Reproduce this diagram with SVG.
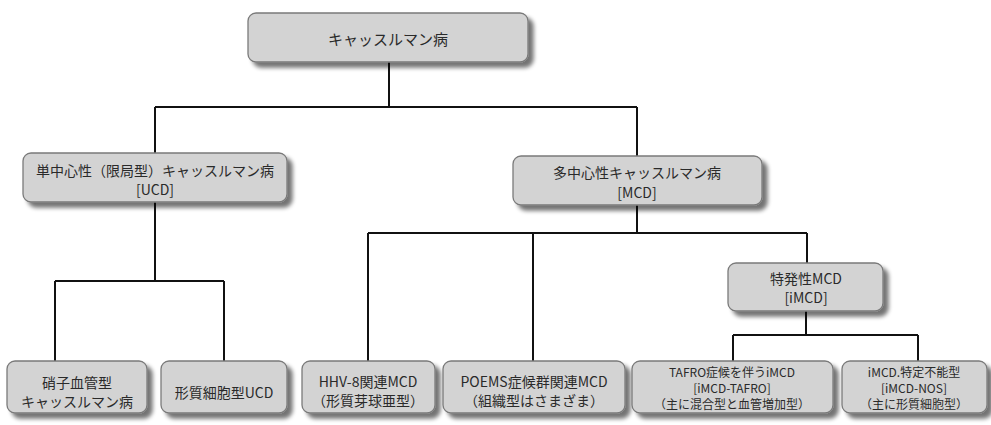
<svg xmlns="http://www.w3.org/2000/svg" width="991" height="425" viewBox="0 0 991 425">
<style>
.box{fill:#d3d3d3;stroke:#7a7a7a;stroke-width:1.3;filter:url(#sh)}
.t{font-family:"Noto Sans CJK JP","Noto Sans",sans-serif;font-size:14px;fill:#2a2a2a;text-anchor:middle}
.big{font-size:15px}
.s{font-size:12px}
.c{fill:none;stroke:#111;stroke-width:2}
</style>
<defs>
<filter id="sh" x="-10%" y="-20%" width="130%" height="160%">
<feGaussianBlur in="SourceAlpha" stdDeviation="2"/>
<feOffset dx="5" dy="5" result="b"/>
<feComponentTransfer><feFuncA type="linear" slope="0.55"/></feComponentTransfer>
<feMerge><feMergeNode/><feMergeNode in="SourceGraphic"/></feMerge>
</filter>
</defs>
<g id="connectors">
<path class="c" d="M389 62V107M155 107H637M155 107V153M637 107V156"/>
<path class="c" d="M155 202V281M55 281H224M55 281V361M224 281V361"/>
<path class="c" d="M637 205V233M368 233H807M368 233V361M533 233V361M807 233V263"/>
<path class="c" d="M806 311V335M733 335H918M733 335V361M918 335V361"/>
</g>
<g id="root"><rect class="box" x="248" y="13" width="280" height="49" rx="8"/><text class="t big" x="388" y="45">キャッスルマン病</text></g>
<g id="ucd"><rect class="box" x="23" y="153" width="264" height="49" rx="8"/><text class="t" x="155" y="176">単中心性（限局型）キャッスルマン病<tspan x="155" dy="19">[UCD]</tspan></text></g>
<g id="mcd"><rect class="box" x="513" y="156" width="249" height="49" rx="8"/><text class="t" x="637" y="178">多中心性キャッスルマン病<tspan x="637" dy="20">[MCD]</tspan></text></g>
<g id="imcd"><rect class="box" x="728" y="263" width="155" height="48" rx="8"/><text class="t" x="806" y="284">特発性MCD<tspan x="806" dy="19">[iMCD]</tspan></text></g>
<g id="hv"><rect class="box" x="7" y="361" width="140" height="52" rx="8"/><text class="t" x="77" y="388">硝子血管型<tspan x="77" dy="19">キャッスルマン病</tspan></text></g>
<g id="pc"><rect class="box" x="161" y="361" width="126" height="52" rx="8"/><text class="t" x="224" y="398">形質細胞型UCD</text></g>
<g id="hhv"><rect class="box" x="302" y="361" width="133" height="52" rx="8"/><text class="t" x="368" y="387">HHV-8関連MCD<tspan x="368" dy="19">（形質芽球亜型）</tspan></text></g>
<g id="poems"><rect class="box" x="443" y="361" width="182" height="52" rx="8"/><text class="t" x="534" y="387">POEMS症候群関連MCD<tspan x="534" dy="19">（組織型はさまざま）</tspan></text></g>
<g id="tafro"><rect class="box" x="632" y="361" width="201" height="52" rx="8"/><text class="t s" x="732" y="377">TAFRO症候を伴うiMCD<tspan x="732" dy="16">[iMCD-TAFRO]</tspan><tspan x="732" dy="16">（主に混合型と血管増加型）</tspan></text></g>
<g id="nos"><rect class="box" x="842" y="361" width="145" height="52" rx="8"/><text class="t s" x="914" y="377">iMCD.特定不能型<tspan x="914" dy="16">[iMCD-NOS]</tspan><tspan x="914" dy="16">（主に形質細胞型）</tspan></text></g>
</svg>
